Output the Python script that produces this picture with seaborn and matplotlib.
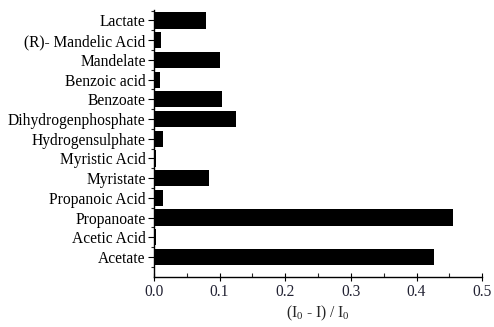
import numpy as np
import matplotlib
matplotlib.use("Agg")
import matplotlib.pyplot as plt
import seaborn as sns
from matplotlib.ticker import FixedLocator, MultipleLocator

categories = ["Lactate", "(R)- Mandelic Acid", "Mandelate", "Benzoic acid", "Benzoate",
              "Dihydrogenphosphate", "Hydrogensulphate", "Myristic Acid", "Myristate",
              "Propanoic Acid", "Propanoate", "Acetic Acid", "Acetate"]
values = [0.080, 0.011, 0.100, 0.009, 0.104, 0.125, 0.014, 0.003, 0.084, 0.014, 0.455, 0.003, 0.427]
xticks = [0.0, 0.1, 0.2, 0.3, 0.4, 0.5]

sns.set_style("ticks")
plt.rcParams["font.family"] = ["Liberation Serif", "DejaVu Serif"]
plt.rcParams["mathtext.fontset"] = "custom"
plt.rcParams["mathtext.rm"] = "Liberation Serif"
plt.rcParams["mathtext.it"] = "Liberation Serif"

fig = plt.figure(figsize=(4.94, 3.27), dpi=100)
ax = fig.add_axes([0.3117, 0.1538, 0.6643, 0.8156])

sns.barplot(x=values, y=categories, color="black", saturation=1, width=0.82,
            orient="h", linewidth=0, ax=ax)

ax.set_xlim(0, 0.5)
ax.set_ylim(len(categories), -0.53)
ax.set_xticks(xticks)
ax.set_xticklabels([f"{t:.1f}" for t in xticks])
ax.xaxis.set_minor_locator(MultipleLocator(0.05))
ax.yaxis.set_minor_locator(FixedLocator(np.arange(-0.5, len(categories) + 0.5, 1.0)))

for s in ["top", "right"]:
    ax.spines[s].set_visible(False)
for s in ["left", "bottom"]:
    ax.spines[s].set_linewidth(1.0)
    ax.spines[s].set_color("black")

ax.tick_params(axis="x", which="major", direction="inout", length=6, width=0.8,
               labelsize=11.2, pad=2, colors="black", labelcolor="#222233")
ax.tick_params(axis="x", which="minor", direction="in", length=3, width=0.8)
ax.tick_params(axis="y", which="major", direction="out", length=4, width=0.8,
               labelsize=11.2, pad=2, colors="black")
ax.tick_params(axis="y", which="minor", direction="out", length=2.5, width=0.8)

ax.set_xlabel("(I$_0$ - I) / I$_0$", fontsize=11.2, labelpad=3)
ax.set_ylabel("")

fig.savefig("out.png", dpi=100)
